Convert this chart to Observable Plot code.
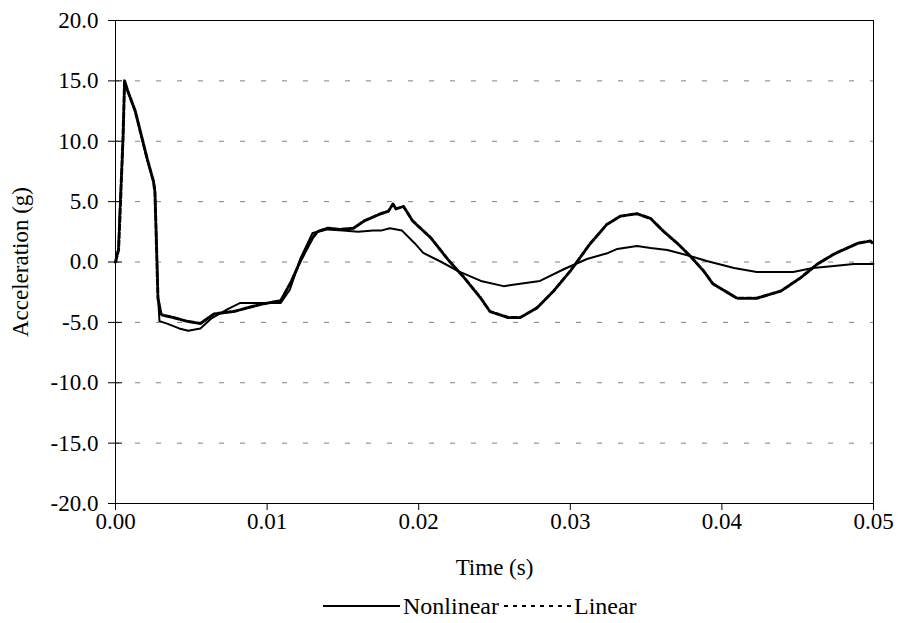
<!DOCTYPE html>
<html>
<head>
<meta charset="utf-8">
<script src="https://cdn.jsdelivr.net/npm/d3@7"></script>
<script src="https://cdn.jsdelivr.net/npm/@observablehq/plot@0.6"></script>
<style>
  html, body { margin: 0; padding: 0; background: white; }
  #chart { width: 901px; }
  #chart svg, #chart svg text { font-family: "Liberation Serif", "Times New Roman", "DejaVu Serif", serif !important; }
  #legend { width: 901px; height: 38px; display: flex; align-items: center; justify-content: flex-start;
            padding-left: 323px; padding-top: 4px; box-sizing: border-box; font-family: "Liberation Serif", "Times New Roman", "DejaVu Serif", serif; font-size: 24px; color: black; }
  #legend svg { display: block; }
  #legend span { margin: 0 4px 0 3px; }
</style>
</head>
<body>
<div id="chart"></div>
<div id="legend">
  <svg width="77" height="10"><line x1="0" y1="5" x2="77" y2="5" stroke="black" stroke-width="2"/></svg>
  <span>Nonlinear</span>
  <svg width="68" height="10"><line x1="1" y1="5" x2="68" y2="5" stroke="black" stroke-width="2" stroke-dasharray="4,5"/></svg>
  <span>Linear</span>
</div>
<script>
// X ticks (time, s) and Y ticks (acceleration, g)
const xTicks = [0, 0.01, 0.02, 0.03, 0.04, 0.05];
const yTicks = [-20, -15, -10, -5, 0, 5, 10, 15, 20];
const gridValues = [-15, -10, -5, 0, 5, 10, 15];

// Nonlinear series
const nonlinearTime = [0, 0.0002, 0.0003, 0.0005, 0.0006, 0.0007, 0.0013, 0.0021, 0.0025, 0.0026, 0.0027, 0.0028, 0.0029,
  0.0034, 0.0042, 0.0048, 0.0056, 0.0063, 0.0074, 0.0082, 0.0109, 0.0115, 0.0122, 0.0130, 0.0140, 0.0150, 0.0160,
  0.0170, 0.0175, 0.0181, 0.0189, 0.0197, 0.0203, 0.0215, 0.0226, 0.0241, 0.0256, 0.0267, 0.0280, 0.0296, 0.0311,
  0.0325, 0.0331, 0.0344, 0.0353, 0.0364, 0.0379, 0.0390, 0.0408, 0.0423, 0.0447, 0.0460, 0.0474, 0.0487, 0.0500];
const nonlinearAccel = [0, 1.2, 4.8, 9.8, 15, 14.5, 12.5, 8.4, 6.7, 6.1, 2.0, -2.7, -4.9,
  -5.1, -5.5, -5.7, -5.5, -4.7, -3.9, -3.4, -3.4, -2.3, 0.3, 2.4, 2.7, 2.6, 2.5,
  2.6, 2.6, 2.8, 2.6, 1.6, 0.75, 0.0, -0.75, -1.57, -2.0, -1.8, -1.57, -0.58, 0.25,
  0.75, 1.08, 1.32, 1.16, 1.0, 0.5, 0.08, -0.5, -0.83, -0.83, -0.5, -0.33, -0.17, -0.17];

// Linear series
const linearTime = [0, 0.0002, 0.0003, 0.0005, 0.0006, 0.0008, 0.0013, 0.0021, 0.0025, 0.0026, 0.0027, 0.0028, 0.0030,
  0.0031, 0.0038, 0.0047, 0.0056, 0.0065, 0.0078, 0.0096, 0.0109, 0.0116, 0.0122, 0.0130, 0.0133, 0.0140, 0.0148,
  0.0157, 0.0164, 0.0175, 0.0180, 0.0183, 0.0185, 0.0190, 0.0196, 0.0208, 0.0219, 0.0230, 0.0241, 0.0247, 0.0259,
  0.0267, 0.0278, 0.0289, 0.0300, 0.0313, 0.0324, 0.0333, 0.0344, 0.0353, 0.0361, 0.0371, 0.0379, 0.0388, 0.0394,
  0.0410, 0.0423, 0.0439, 0.0452, 0.0463, 0.0474, 0.0490, 0.0498, 0.0500];
const linearAccel = [0, 1.0, 4.0, 10.5, 15, 14.2, 12.5, 8.5, 6.7, 5.8, 1.5, -3.0, -4.3,
  -4.4, -4.6, -4.9, -5.1, -4.3, -4.1, -3.5, -3.2, -1.6, 0.1, 2.0, 2.5, 2.8, 2.7,
  2.8, 3.4, 4.0, 4.2, 4.8, 4.4, 4.6, 3.4, 2.0, 0.25, -1.3, -3.0, -4.1, -4.6,
  -4.6, -3.8, -2.4, -0.75, 1.5, 3.1, 3.8, 4.0, 3.6, 2.6, 1.5, 0.5, -0.75, -1.8,
  -3.0, -3.0, -2.4, -1.3, -0.17, 0.66, 1.57, 1.74, 1.5];

const nonlinear = nonlinearTime.map((t, i) => ({t, a: nonlinearAccel[i]}));
const linear = linearTime.map((t, i) => ({t, a: linearAccel[i]}));

const chart = Plot.plot({
  width: 901,
  height: 585,
  marginTop: 20,
  marginLeft: 115,
  marginRight: 28,
  marginBottom: 82,
  style: {fontFamily: "'Liberation Serif', 'Times New Roman', serif", fontSize: "23px", color: "black", background: "white"},
  x: {domain: [0, 0.05]},
  y: {domain: [-20, 20]},
  marks: [
    Plot.ruleY(gridValues, {stroke: "#808080", strokeDasharray: "5,16", strokeDashoffset: 1}),
    Plot.frame({stroke: "black"}),
    Plot.axisX({ticks: xTicks, tickSize: 7, tickPadding: 2, tickFormat: d => d.toFixed(2),
      label: "Time (s)", labelAnchor: "center", labelOffset: 71, labelArrow: "none"}),
    Plot.axisY({ticks: yTicks, tickSize: 14, dx: 7, tickPadding: 10, tickFormat: d => d.toFixed(1),
      label: "Acceleration (g)", labelAnchor: "center", labelOffset: 104, labelArrow: "none"}),
    Plot.line(nonlinear, {x: "t", y: "a", stroke: "black", strokeWidth: 2}),
    Plot.line(linear, {x: "t", y: "a", stroke: "black", strokeWidth: 3, strokeDasharray: "6,2"})
  ]
});
document.getElementById("chart").appendChild(chart);
</script>
</body>
</html>
